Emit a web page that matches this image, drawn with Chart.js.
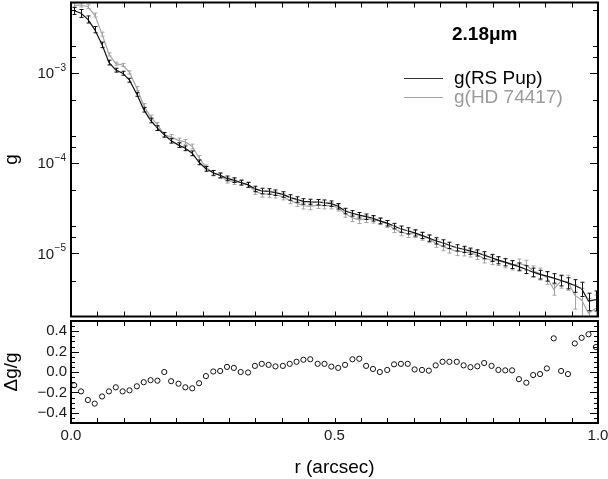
<!DOCTYPE html>
<html>
<head>
<meta charset="utf-8">
<script src="https://cdn.jsdelivr.net/npm/chart.js@4.4.1/dist/chart.umd.min.js"></script>
<style>
  html, body { margin: 0; padding: 0; background: #fff; }
  #wrap { position: relative; width: 608px; height: 479px; overflow: hidden; }
  #wrap canvas { position: absolute; left: 0; }
  #profileChart { top: 0; }
  #residualChart { top: 316px; }
</style>
</head>
<body>
<div id="wrap">
  <canvas id="profileChart" width="608" height="320"></canvas>
  <canvas id="residualChart" width="608" height="163"></canvas>
</div>
<script>
// radii (arcsec) of the azimuthal profile samples
const radius = [
  0.006, 0.019, 0.032, 0.045, 0.059, 0.072, 0.085, 0.098, 0.111, 0.125,
  0.138, 0.151, 0.164, 0.177, 0.190, 0.204, 0.217, 0.230, 0.243, 0.256,
  0.270, 0.283, 0.296, 0.309, 0.322, 0.336, 0.349, 0.362, 0.375, 0.388,
  0.402, 0.415, 0.428, 0.441, 0.454, 0.468, 0.481, 0.494, 0.507, 0.520,
  0.534, 0.547, 0.560, 0.573, 0.586, 0.600, 0.613, 0.626, 0.639, 0.652,
  0.666, 0.679, 0.692, 0.705, 0.718, 0.732, 0.745, 0.758, 0.771, 0.784,
  0.798, 0.811, 0.824, 0.837, 0.850, 0.864, 0.877, 0.890, 0.903, 0.916,
  0.930, 0.943, 0.956, 0.969, 0.982, 0.996
];

const gRSPup = [
  4.86e-3, 4.56e-3, 3.91e-3, 3.01e-3, 2.04e-3, 1.30e-3, 1.07e-3, 9.9e-4, 8.28e-4, 5.78e-4,
  3.91e-4, 2.97e-4, 2.44e-4, 2.06e-4, 1.77e-4, 1.58e-4, 1.46e-4, 1.285e-4, 1.02e-4, 8.64e-5,
  7.80e-5, 7.32e-5, 6.78e-5, 6.48e-5, 6.09e-5, 5.74e-5, 5.18e-5, 4.92e-5, 4.86e-5, 4.71e-5,
  4.50e-5, 4.17e-5, 3.96e-5, 3.77e-5, 3.72e-5, 3.69e-5, 3.65e-5, 3.56e-5, 3.33e-5, 2.95e-5,
  2.78e-5, 2.65e-5, 2.55e-5, 2.45e-5, 2.29e-5, 2.16e-5, 2.01e-5, 1.86e-5, 1.78e-5, 1.69e-5,
  1.585e-5, 1.48e-5, 1.38e-5, 1.31e-5, 1.23e-5, 1.155e-5, 1.11e-5, 1.06e-5, 1.015e-5, 9.58e-6,
  8.94e-6, 8.43e-6, 8.0e-6, 7.55e-6, 7.13e-6, 6.64e-6, 6.19e-6, 5.85e-6, 5.60e-6, 5.32e-6,
  5.01e-6, 4.71e-6, 4.41e-6, 4.06e-6, 2.97e-6, 3.07e-6
];

const gHD74417 = [
  5.59e-3, 5.63e-3, 5.39e-3, 4.36e-3, 2.68e-3, 1.60e-3, 1.26e-3, 1.22e-3, 1.01e-3, 6.72e-4,
  4.34e-4, 3.23e-4, 2.67e-4, 2.06e-4, 1.95e-4, 1.785e-4, 1.72e-4, 1.53e-4, 1.146e-4, 9.0e-5,
  7.76e-5, 7.25e-5, 6.46e-5, 6.23e-5, 6.09e-5, 5.77e-5, 4.89e-5, 4.56e-5, 4.54e-5, 4.46e-5,
  4.25e-5, 3.86e-5, 3.60e-5, 3.37e-5, 3.31e-5, 3.42e-5, 3.38e-5, 3.38e-5, 3.20e-5, 2.76e-5,
  2.47e-5, 2.35e-5, 2.41e-5, 2.38e-5, 2.29e-5, 2.12e-5, 1.87e-5, 1.72e-5, 1.65e-5, 1.65e-5,
  1.554e-5, 1.46e-5, 1.296e-5, 1.19e-5, 1.12e-5, 1.05e-5, 1.042e-5, 1.012e-5, 9.61e-6, 8.81e-6,
  8.43e-6, 8.26e-6, 7.87e-6, 7.43e-6, 7.67e-6, 7.42e-6, 6.38e-6, 5.97e-6, 5.41e-6, 4.0e-6,
  4.96e-6, 4.81e-6, 3.45e-6, 3.04e-6, 2.17e-6, 2.47e-6
];

// relative 1-sigma errors
const errRSPup = [
  0.09, 0.10, 0.09, 0.08, 0.07, 0.06, 0.05, 0.05, 0.05, 0.05,
  0.06, 0.06, 0.06, 0.06, 0.06, 0.06, 0.06, 0.06, 0.06, 0.06,
  0.06, 0.06, 0.06, 0.06, 0.06, 0.06, 0.07, 0.07, 0.07, 0.07,
  0.07, 0.07, 0.07, 0.07, 0.07, 0.07, 0.07, 0.07, 0.07, 0.07,
  0.07, 0.07, 0.07, 0.07, 0.07, 0.07, 0.07, 0.08, 0.08, 0.08,
  0.08, 0.08, 0.08, 0.08, 0.08, 0.08, 0.08, 0.08, 0.08, 0.09,
  0.09, 0.09, 0.09, 0.10, 0.10, 0.10, 0.11, 0.11, 0.12, 0.12,
  0.13, 0.14, 0.16, 0.18, 0.22, 0.25
];

const errHD74417 = [
  0.05, 0.05, 0.05, 0.05, 0.05, 0.04, 0.04, 0.04, 0.04, 0.05,
  0.05, 0.05, 0.05, 0.05, 0.06, 0.06, 0.06, 0.06, 0.06, 0.06,
  0.07, 0.07, 0.07, 0.07, 0.07, 0.07, 0.08, 0.08, 0.08, 0.08,
  0.08, 0.08, 0.08, 0.08, 0.08, 0.08, 0.08, 0.08, 0.08, 0.09,
  0.09, 0.09, 0.09, 0.09, 0.09, 0.09, 0.09, 0.09, 0.09, 0.09,
  0.10, 0.10, 0.10, 0.10, 0.10, 0.10, 0.10, 0.10, 0.11, 0.11,
  0.11, 0.11, 0.12, 0.12, 0.13, 0.13, 0.14, 0.15, 0.16, 0.14,
  0.17, 0.19, 0.30, 0.35, 0.45, 0.40
];

// delta g / g
const dgOverG = [
  -0.13, -0.19, -0.275, -0.31, -0.24, -0.19, -0.15, -0.19, -0.18, -0.14,
  -0.10, -0.08, -0.085, 0.0, -0.09, -0.115, -0.15, -0.16, -0.11, -0.04,
  0.005, 0.01, 0.05, 0.04, 0.0, -0.005, 0.06, 0.08, 0.07, 0.055,
  0.06, 0.08, 0.10, 0.12, 0.125, 0.08, 0.08, 0.053, 0.04, 0.07,
  0.125, 0.13, 0.06, 0.03, 0.0, 0.02, 0.075, 0.08, 0.08, 0.025,
  0.02, 0.013, 0.065, 0.10, 0.10, 0.10, 0.065, 0.047, 0.056, 0.088,
  0.06, 0.02, 0.016, 0.016, -0.07, -0.105, -0.03, -0.02, 0.035, 0.33,
  0.01, -0.02, 0.28, 0.335, 0.37, 0.245
];

const seriesNames = ["g(RS Pup)", "g(HD 74417)"];
const bandLabel = "2.18\u03bcm";
const rTicks = [0, 0.5, 1];
const gTicks = [1e-5, 1e-4, 1e-3];
const dgTicks = [-0.4, -0.2, 0, 0.2, 0.4];

const FONT = "'Liberation Sans', Arial, Helvetica, sans-serif";
const INK = "#000";
const LABEL = "#1a1a1a";
const GREY = "#a4a4a4";

const signed = v => (v < 0 ? "\u2212" : "") + Math.abs(v).toFixed(1);
const points = (xs, ys) => xs.map((x, i) => ({ x, y: ys[i] }));

// keep the plot box where it is: no extra room for labels at the axis ends
const noEdgePadding = s => {
  s.paddingTop = 0;
  s.paddingBottom = 0;
  s.paddingLeft = 0;
  s.paddingRight = 0;
};

function line(ctx, x1, y1, x2, y2) {
  ctx.beginPath();
  ctx.moveTo(x1, y1);
  ctx.lineTo(x2, y2);
  ctx.stroke();
}

// vertical error bars with small caps, drawn through the chart scales
const errorBars = {
  id: "errorBars",
  afterDatasetsDraw(chart) {
    const { ctx, chartArea: a, scales } = chart;
    ctx.save();
    ctx.beginPath();
    ctx.rect(a.left, a.top, a.right - a.left, a.bottom - a.top);
    ctx.clip();
    for (let d = chart.data.datasets.length - 1; d >= 0; d--) {
      const ds = chart.data.datasets[d];
      if (!ds.relErr) continue;
      ctx.strokeStyle = ds.borderColor;
      ctx.lineWidth = 1;
      ds.data.forEach((p, i) => {
        const x = Math.round(scales.x.getPixelForValue(p.x)) + 0.5;
        const hi = scales.y.getPixelForValue(p.y * (1 + ds.relErr[i]));
        const lo = scales.y.getPixelForValue(p.y * (1 - ds.relErr[i]));
        line(ctx, x, hi, x, lo);
        line(ctx, x - 2, hi, x + 2, hi);
        line(ctx, x - 2, lo, x + 2, lo);
      });
    }
    ctx.restore();
  }
};

// "10" with a raised exponent at each decade tick of the log axis
const powerLabels = {
  id: "powerLabels",
  afterDraw(chart) {
    const { ctx, chartArea: a, scales } = chart;
    ctx.save();
    ctx.fillStyle = LABEL;
    ctx.textBaseline = "middle";
    ctx.textAlign = "left";
    gTicks.forEach(v => {
      const y = scales.y.getPixelForValue(v);
      const exp = "\u2212" + Math.abs(Math.round(Math.log10(v)));
      ctx.font = "10px " + FONT;
      const expW = ctx.measureText(exp).width;
      ctx.font = "15px " + FONT;
      const baseW = ctx.measureText("10").width;
      const right = a.left - 5;
      ctx.fillText("10", right - expW - baseW - 0.5, y + 1);
      ctx.font = "10px " + FONT;
      ctx.fillText(exp, right - expW, y - 5);
    });
    ctx.restore();
  }
};

// box frame with inward tick marks on all four sides
const frameTicks = {
  id: "frameTicks",
  afterDraw(chart, args, opts) {
    const { ctx, chartArea: a, scales } = chart;
    ctx.save();
    ctx.strokeStyle = INK;
    ctx.lineWidth = 1;
    opts.xMarks.forEach(v => {
      const x = Math.round(scales.x.getPixelForValue(v)) + 0.5;
      line(ctx, x, a.bottom, x, a.bottom - opts.xLen);
      line(ctx, x, a.top, x, a.top + opts.xLen);
    });
    opts.yMarks.forEach(([v, len]) => {
      const y = Math.round(scales.y.getPixelForValue(v)) + 0.5;
      if (y < a.top || y > a.bottom) return;
      line(ctx, a.left, y, a.left + len, y);
      line(ctx, a.right, y, a.right - len, y);
    });
    ctx.lineWidth = 2;
    ctx.strokeRect(a.left, a.top, a.right - a.left, a.bottom - a.top);
    ctx.restore();
  }
};

const legendNote = {
  id: "legendNote",
  afterDraw(chart) {
    const ctx = chart.ctx;
    ctx.save();
    ctx.textBaseline = "middle";
    ctx.textAlign = "left";
    ctx.fillStyle = INK;
    ctx.font = "bold 19px " + FONT;
    ctx.fillText(bandLabel, 452, 35);
    chart.data.datasets.forEach((ds, i) => {
      const y = 78.5 + i * 19;
      ctx.strokeStyle = ds.legendLine;
      ctx.lineWidth = 1.2;
      line(ctx, 404, y, 443, y);
      ctx.fillStyle = ds.legendText;
      ctx.font = "19px " + FONT;
      ctx.fillText(ds.label, 454, y);
    });
    ctx.restore();
  }
};

const xMarks = Array.from({ length: 21 }, (_, i) => i * 0.05);
const gMarks = [];
[1e-6, 1e-5, 1e-4, 1e-3].forEach(d => {
  gMarks.push([d, 8], [d * 1.5, 5], [d * 2, 5], [d * 5, 5]);
});
const dgMarks = Array.from({ length: 21 }, (_, i) => {
  const tenths = (-0.5 + i * 0.05) * 10;
  const major = Math.abs(tenths - Math.round(tenths)) < 1e-6 && Math.round(tenths) % 2 === 0;
  return [-0.5 + i * 0.05, major ? 8 : 4];
});

Chart.defaults.font.family = FONT;
Chart.defaults.color = LABEL;

new Chart(document.getElementById("profileChart"), {
  type: "line",
  data: {
    datasets: [
      {
        label: seriesNames[0],
        data: points(radius, gRSPup),
        relErr: errRSPup,
        borderColor: "#111",
        legendLine: "#333",
        legendText: "#000",
        borderWidth: 1.2,
        pointRadius: 0,
        tension: 0
      },
      {
        label: seriesNames[1],
        data: points(radius, gHD74417),
        relErr: errHD74417,
        borderColor: GREY,
        legendLine: GREY,
        legendText: "#9a9a9a",
        borderWidth: 1.2,
        pointRadius: 0,
        tension: 0
      }
    ]
  },
  options: {
    responsive: false,
    animation: false,
    layout: { padding: { top: 2.5, right: 10, bottom: 3.5, left: 0 } },
    plugins: {
      legend: { display: false },
      tooltip: { enabled: false },
      frameTicks: { xMarks, xLen: 5, yMarks: gMarks }
    },
    scales: {
      x: { type: "linear", min: 0, max: 1, display: false },
      y: {
        type: "logarithmic",
        min: 2e-6,
        max: 6e-3,
        afterBuildTicks: s => { s.ticks = gTicks.map(value => ({ value })); },
        afterFit: s => { s.width = 71; noEdgePadding(s); },
        grid: { display: false, drawTicks: false },
        border: { display: false },
        ticks: { callback: () => "", padding: 5, font: { size: 15 } },
        title: { display: true, text: "g", font: { size: 19 }, color: "#000", padding: 0 }
      }
    }
  },
  plugins: [errorBars, powerLabels, frameTicks, legendNote]
});

new Chart(document.getElementById("residualChart"), {
  type: "scatter",
  data: {
    datasets: [{
      label: "\u0394g/g",
      data: points(radius, dgOverG),
      pointStyle: "circle",
      pointRadius: 2.6,
      pointBorderWidth: 1,
      pointBorderColor: "#111",
      pointBackgroundColor: "rgba(0,0,0,0)",
      showLine: false
    }]
  },
  options: {
    responsive: false,
    animation: false,
    layout: { padding: { top: 0.5, right: 10, bottom: 0, left: 0 } },
    plugins: {
      legend: { display: false },
      tooltip: { enabled: false },
      frameTicks: { xMarks, xLen: 5, yMarks: dgMarks }
    },
    scales: {
      x: {
        type: "linear",
        min: 0,
        max: 1,
        afterBuildTicks: s => { s.ticks = rTicks.map(value => ({ value })); },
        afterFit: s => { s.height = 56; noEdgePadding(s); },
        grid: { display: false, drawTicks: false },
        border: { display: false },
        ticks: { callback: v => v.toFixed(1), padding: 4, font: { size: 15 }, color: LABEL, maxRotation: 0 },
        title: { display: true, text: "r (arcsec)", font: { size: 19 }, color: "#000", padding: 0 }
      },
      y: {
        type: "linear",
        min: -0.5,
        max: 0.5,
        afterBuildTicks: s => { s.ticks = dgTicks.map(value => ({ value })); },
        afterFit: s => { s.width = 71; noEdgePadding(s); },
        grid: { display: false, drawTicks: false },
        border: { display: false },
        ticks: { callback: v => signed(v), padding: 4, font: { size: 15 }, color: LABEL },
        title: { display: true, text: "\u0394g/g", font: { size: 19 }, color: "#000", padding: 0 }
      }
    }
  },
  plugins: [frameTicks]
});
</script>
</body>
</html>
